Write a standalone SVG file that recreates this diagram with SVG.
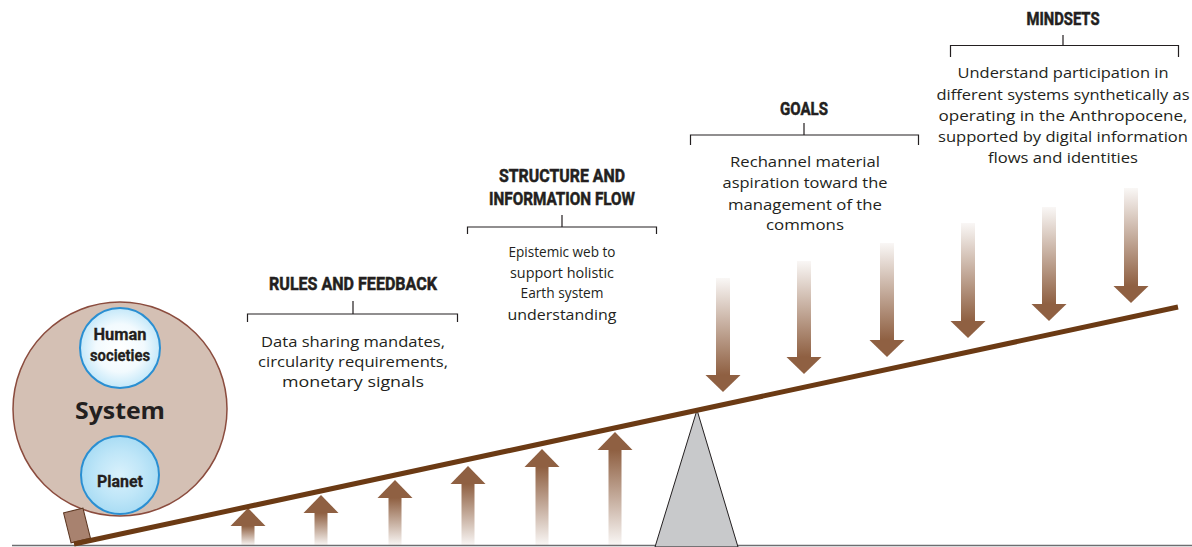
<svg xmlns="http://www.w3.org/2000/svg" width="1192" height="547" viewBox="0 0 1192 547">
<defs>
<linearGradient id="upShaft" x1="0" y1="0" x2="0" y2="1">
<stop offset="0" stop-color="#8f6042"/>
<stop offset="1" stop-color="#8f6042" stop-opacity="0.05"/>
</linearGradient>
<linearGradient id="downShaft" x1="0" y1="0" x2="0" y2="1">
<stop offset="0" stop-color="#8f6042" stop-opacity="0.05"/>
<stop offset="1" stop-color="#8f6042"/>
</linearGradient>
<radialGradient id="humanFill" cx="0.5" cy="0.5" r="0.5">
<stop offset="0" stop-color="#ffffff"/>
<stop offset="0.6" stop-color="#f2fafe"/>
<stop offset="1" stop-color="#c4e8f9"/>
</radialGradient>
<radialGradient id="planetFill" cx="0.5" cy="0.5" r="0.5">
<stop offset="0" stop-color="#d9f1fc"/>
<stop offset="0.6" stop-color="#bfe6f8"/>
<stop offset="1" stop-color="#a9dcf4"/>
</radialGradient>
<style>
.head{fill:#8f6042}
.up{fill:url(#upShaft)}
.down{fill:url(#downShaft)}
.hd{font-family:Roboto,"Liberation Sans",sans-serif;font-weight:bold;font-size:17.5px;fill:#231f20;stroke:#231f20;stroke-width:0.5;text-anchor:middle}
.bd{font-family:"Open Sans","Noto Sans",sans-serif;font-size:15px;fill:#231f20;text-anchor:middle}
.br{fill:none;stroke:#231f20;stroke-width:1.2}
.inner{stroke:#2a8fd2;stroke-width:2}
.lbl{font-family:Roboto,"Liberation Sans",sans-serif;font-weight:bold;font-size:17px;fill:#231f20;stroke:#231f20;stroke-width:0.3;text-anchor:middle}
</style>
</defs>
<rect width="1192" height="547" fill="#ffffff"/>

<!-- ground -->
<line x1="12" y1="545.5" x2="1192" y2="545.5" stroke="#6d6e71" stroke-width="1.5"/>

<!-- system node -->
<g id="system">
<circle cx="120" cy="409" r="107" fill="#d4c0b4" stroke="#8b4c3e" stroke-width="1.5"/>
<text x="120" y="419" font-family="'Open Sans','Noto Sans',sans-serif" font-weight="bold" font-size="24" fill="#231f20" text-anchor="middle" textLength="90" lengthAdjust="spacingAndGlyphs">System</text>
</g>
<g id="human-societies">
<circle class="inner" cx="120" cy="348" r="40" fill="url(#humanFill)"/>
<text class="lbl" x="120" y="340" textLength="53" lengthAdjust="spacingAndGlyphs">Human</text>
<text class="lbl" x="120" y="361" textLength="60" lengthAdjust="spacingAndGlyphs">societies</text>
</g>
<g id="planet">
<circle class="inner" cx="120" cy="475" r="39" fill="url(#planetFill)"/>
<text class="lbl" x="120" y="487" textLength="46" lengthAdjust="spacingAndGlyphs">Planet</text>
</g>

<!-- fulcrum -->
<g id="fulcrum">
<polygon points="655,547 697,410 738,547" fill="#c8c9cb" stroke="#231f20" stroke-width="1"/>
</g>

<!-- block on left end -->
<g id="block">
<rect x="-10" y="-15.5" width="20" height="31" transform="translate(77 525.5) rotate(-14)" fill="#a8826f" stroke="#5b3520" stroke-width="1"/>
</g>

<!-- up arrows -->
<g id="up-arrows">
<rect class="up" x="241.5" y="526" width="13" height="19.5"/><polygon class="head" points="230.5,526 248,508 265.5,526"/>
<rect class="up" x="314.5" y="513" width="13" height="32.5"/><polygon class="head" points="303.5,513 321,495 338.5,513"/>
<rect class="up" x="388.5" y="498" width="13" height="47.5"/><polygon class="head" points="377.5,498 395,480 412.5,498"/>
<rect class="up" x="461.5" y="484" width="13" height="61.5"/><polygon class="head" points="450.5,484 468,466 485.5,484"/>
<rect class="up" x="535.5" y="467" width="13" height="78.5"/><polygon class="head" points="524.5,467 542,449 559.5,467"/>
<rect class="up" x="608.5" y="450" width="13" height="95.5"/><polygon class="head" points="597.5,450 615,432 632.5,450"/>
</g>

<!-- down arrows -->
<g id="down-arrows">
<rect class="down" x="716" y="278" width="14" height="97"/><polygon class="head" points="705.5,375 740.5,375 723,392"/>
<rect class="down" x="797" y="261" width="14" height="96"/><polygon class="head" points="786.5,357 821.5,357 804,374"/>
<rect class="down" x="880" y="243" width="14" height="97"/><polygon class="head" points="869.5,340 904.5,340 887,357"/>
<rect class="down" x="961" y="223" width="14" height="98"/><polygon class="head" points="950.5,321 985.5,321 968,338"/>
<rect class="down" x="1042" y="207" width="14" height="97"/><polygon class="head" points="1031.5,304 1066.5,304 1049,321"/>
<rect class="down" x="1124" y="188" width="14" height="98"/><polygon class="head" points="1113.5,286 1148.5,286 1131,303"/>
</g>

<!-- beam -->
<g id="beam">
<line x1="74" y1="544" x2="1178" y2="307" stroke="#6b3a14" stroke-width="5"/>
</g>

<!-- brackets -->
<g id="connectors">
<path class="br" d="M247.5,322 V314 H457.5 V322 M353,314 V301"/>
<path class="br" d="M467.5,234 V227 H656.5 V234 M562,227 V215"/>
<path class="br" d="M690.5,145 V135 H918.5 V145 M804,135 V123"/>
<path class="br" d="M950.5,57 V45.5 H1178.5 V57 M1063,45.5 V35"/>
</g>

<g id="rules-feedback">
<text class="hd" x="353" y="290" textLength="168" lengthAdjust="spacingAndGlyphs">RULES AND FEEDBACK</text>
<text class="bd" x="353" y="347" textLength="184" lengthAdjust="spacingAndGlyphs">Data sharing mandates,</text>
<text class="bd" x="353" y="367" textLength="190" lengthAdjust="spacingAndGlyphs">circularity requirements,</text>
<text class="bd" x="353" y="387" textLength="142" lengthAdjust="spacingAndGlyphs">monetary signals</text>
</g>

<g id="structure-information-flow">
<text class="hd" x="562" y="182" textLength="126" lengthAdjust="spacingAndGlyphs">STRUCTURE AND</text>
<text class="hd" x="562" y="205" textLength="146" lengthAdjust="spacingAndGlyphs">INFORMATION FLOW</text>
<text class="bd" x="562" y="257" textLength="107" lengthAdjust="spacingAndGlyphs">Epistemic web to</text>
<text class="bd" x="562" y="278" textLength="104" lengthAdjust="spacingAndGlyphs">support holistic</text>
<text class="bd" x="562" y="298" textLength="83" lengthAdjust="spacingAndGlyphs">Earth system</text>
<text class="bd" x="562" y="320" textLength="109" lengthAdjust="spacingAndGlyphs">understanding</text>
</g>

<g id="goals">
<text class="hd" x="804" y="115" textLength="48" lengthAdjust="spacingAndGlyphs">GOALS</text>
<text class="bd" x="805" y="167" textLength="150" lengthAdjust="spacingAndGlyphs">Rechannel material</text>
<text class="bd" x="805" y="188" textLength="165" lengthAdjust="spacingAndGlyphs">aspiration toward the</text>
<text class="bd" x="805" y="210" textLength="154" lengthAdjust="spacingAndGlyphs">management of the</text>
<text class="bd" x="805" y="230" textLength="78" lengthAdjust="spacingAndGlyphs">commons</text>
</g>

<g id="mindsets">
<text class="hd" x="1063" y="25" textLength="73" lengthAdjust="spacingAndGlyphs">MINDSETS</text>
<text class="bd" x="1063" y="78" textLength="211" lengthAdjust="spacingAndGlyphs">Understand participation in</text>
<text class="bd" x="1063" y="100" textLength="253" lengthAdjust="spacingAndGlyphs">different systems synthetically as</text>
<text class="bd" x="1063" y="121" textLength="249" lengthAdjust="spacingAndGlyphs">operating in the Anthropocene,</text>
<text class="bd" x="1063" y="142" textLength="250" lengthAdjust="spacingAndGlyphs">supported by digital information</text>
<text class="bd" x="1063" y="163" textLength="150" lengthAdjust="spacingAndGlyphs">flows and identities</text>
</g>
</svg>
